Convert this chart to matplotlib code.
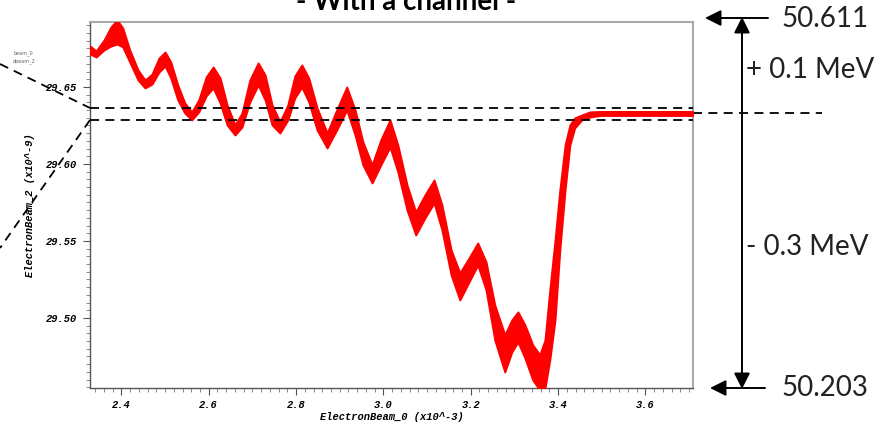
import matplotlib
matplotlib.use("Agg")
import matplotlib.pyplot as plt
import matplotlib.transforms as mtransforms
from matplotlib.lines import Line2D
from matplotlib.ticker import MultipleLocator

# ElectronBeam_0 (x10^-3) positions and the red band (upper / lower edge)
x_vals = [2.328, 2.342, 2.360, 2.376, 2.390, 2.403, 2.419, 2.438, 2.454, 2.470,
          2.486, 2.500, 2.513, 2.529, 2.545, 2.561, 2.577, 2.594, 2.610, 2.626,
          2.642, 2.660, 2.676, 2.694, 2.713, 2.729, 2.745, 2.763, 2.781, 2.797,
          2.813, 2.829, 2.848, 2.871, 2.893, 2.916, 2.935, 2.953, 2.974, 2.994,
          3.015, 3.033, 3.054, 3.074, 3.095, 3.116, 3.134, 3.155, 3.175, 3.196,
          3.216, 3.235, 3.255, 3.278, 3.294, 3.308, 3.324, 3.342, 3.358, 3.370,
          3.381, 3.393, 3.404, 3.416, 3.427, 3.438, 3.454, 3.473, 3.496, 3.709]
y_upper = [29.6766, 29.6734, 29.6805, 29.6890, 29.6935, 29.6883, 29.6740, 29.6610, 29.6545, 29.6584,
           29.6688, 29.6727, 29.6662, 29.6513, 29.6396, 29.6338, 29.6416, 29.6565, 29.6630, 29.6558,
           29.6383, 29.6253, 29.6331, 29.6545, 29.6656, 29.6578, 29.6383, 29.6273, 29.6383, 29.6571,
           29.6643, 29.6558, 29.6364, 29.6201, 29.6351, 29.6500, 29.6351, 29.6143, 29.5994, 29.6156,
           29.6286, 29.6123, 29.5864, 29.5688, 29.5799, 29.5896, 29.5734, 29.5442, 29.5292, 29.5390,
           29.5487, 29.5364, 29.5084, 29.4890, 29.4987, 29.5039, 29.4955, 29.4825, 29.4760, 29.4857,
           29.5182, 29.5506, 29.5831, 29.6123, 29.6253, 29.6299, 29.6318, 29.6338, 29.6341, 29.6341]
y_lower = [29.6714, 29.6695, 29.6740, 29.6766, 29.6779, 29.6760, 29.6662, 29.6545, 29.6494, 29.6519,
           29.6597, 29.6636, 29.6558, 29.6416, 29.6331, 29.6286, 29.6338, 29.6442, 29.6494, 29.6396,
           29.6253, 29.6188, 29.6240, 29.6403, 29.6513, 29.6416, 29.6253, 29.6201, 29.6286, 29.6429,
           29.6500, 29.6403, 29.6221, 29.6104, 29.6221, 29.6351, 29.6188, 29.5994, 29.5877, 29.5994,
           29.6110, 29.5948, 29.5701, 29.5539, 29.5649, 29.5747, 29.5571, 29.5279, 29.5117, 29.5234,
           29.5344, 29.5182, 29.4857, 29.4649, 29.4779, 29.4844, 29.4740, 29.4597, 29.4532, 29.4545,
           29.4727, 29.4987, 29.5442, 29.5831, 29.6123, 29.6234, 29.6286, 29.6305, 29.6315, 29.6315]

ref_levels = [29.6364, 29.6286]   # dashed guide lines
final_level = 29.6331             # level carried out to the right
x_ticks = [2.4, 2.6, 2.8, 3.0, 3.2, 3.4, 3.6]
y_ticks = [29.50, 29.55, 29.60, 29.65]
energy_high = "50.611"
energy_low = "50.203"
delta_up = "+ 0.1 MeV"
delta_down = "- 0.3 MeV"

W, H = 884, 424


def fp(px, py):
    # pixel position (from top-left) -> figure fraction
    return (px / W, 1 - py / H)


fig = plt.figure(figsize=(W / 100, H / 100), dpi=100, facecolor='white')
ax = fig.add_axes([90 / W, 1 - 388 / H, (693 - 90) / W, (388 - 22) / H])

ax.fill_between(x_vals, y_lower, y_upper, color='#ff0000', edgecolor='#ff0000',
                lw=1.4, joinstyle='round', zorder=3)
for lvl in ref_levels:
    ax.axhline(lvl, color='black', lw=1.3, ls=(0, (5, 3.5)), zorder=4)

# dashed line continuing outside the frame at the final level
blend = mtransforms.blended_transform_factory(ax.transAxes, ax.transData)
ax.plot([1.0, (822 - 90) / (693 - 90)], [final_level, final_level], transform=blend,
        color='black', lw=1.3, ls=(0, (5, 3.5)), clip_on=False)

ax.set_xlim(2.328, 3.709)
ax.set_ylim(29.4545, 29.6922)

tick_font = dict(family='Liberation Mono', weight='bold', style='italic', size=7.5)
ax.set_xticks(x_ticks, labels=[f"{v:.1f}" for v in x_ticks], **tick_font)
ax.set_yticks(y_ticks, labels=[f"{v:.2f}" for v in y_ticks], **tick_font)
ax.xaxis.set_minor_locator(MultipleLocator(0.02))
ax.yaxis.set_minor_locator(MultipleLocator(0.005))
ax.tick_params(which='major', direction='out', length=5, width=0.8, color='#555', pad=4)
ax.tick_params(which='minor', direction='out', length=3, width=0.6, color='#777')
ax.tick_params(top=False, right=False, which='both')

ax.set_xlabel("ElectronBeam_0 (x10^-3)", fontdict=tick_font, labelpad=1)
ax.set_ylabel("ElectronBeam_2 (x10^-9)", fontdict=tick_font, labelpad=8)

for side in ['left', 'bottom']:
    ax.spines[side].set_color('#555')
    ax.spines[side].set_linewidth(1.0)
for side in ['top', 'right']:
    ax.spines[side].set_color('#aaa')
    ax.spines[side].set_linewidth(1.5)

# zoom connector lines on the left
for (x0, y0), (x1, y1) in [((0, 64), (90, 108)), ((90, 120), (0, 248))]:
    a, b = fp(x0, y0), fp(x1, y1)
    fig.add_artist(Line2D([a[0], b[0]], [a[1], b[1]], transform=fig.transFigure,
                          color='black', lw=1.3, ls=(0, (5, 3.5))))

# tiny legend text at top-left
fig.text(*fp(13, 53), "beam_0", fontsize=3.5, color='#666', va='center')
fig.text(*fp(13, 61), "dbeam_2", fontsize=3.5, color='#666', va='center')

# title (cut off at the top, as in the source slide)
fig.text(*fp(406, 10), "- With a channel -", ha='center', va='baseline',
         fontsize=20, fontweight='bold', family='Lato', color='black')

# energy range annotation on the right
arrow_kw = dict(arrowstyle='-|>', color='black', lw=1.4, mutation_scale=24, shrinkA=0, shrinkB=0)
fig.add_artist(plt.Annotation('', xy=fp(742, 17), xytext=fp(742, 389),
               xycoords='figure fraction', textcoords='figure fraction',
               arrowprops=dict(arrowstyle='<|-|>', color='black', lw=1.4,
                               mutation_scale=24, shrinkA=0, shrinkB=0)))
fig.add_artist(plt.Annotation('', xy=fp(705, 18), xytext=fp(768, 18),
               xycoords='figure fraction', textcoords='figure fraction', arrowprops=arrow_kw))
fig.add_artist(plt.Annotation('', xy=fp(710, 388), xytext=fp(765, 388),
               xycoords='figure fraction', textcoords='figure fraction', arrowprops=arrow_kw))

txt_kw = dict(family='Lato', fontsize=20, color='#222', va='center', ha='left')
fig.text(*fp(781, 19), energy_high, **txt_kw)
fig.text(*fp(781, 388), energy_low, **txt_kw)
fig.text(*fp(746, 70), delta_up, **txt_kw)
fig.text(*fp(746, 247), delta_down, **txt_kw)

fig.savefig("out.png", dpi=100, facecolor='white')
